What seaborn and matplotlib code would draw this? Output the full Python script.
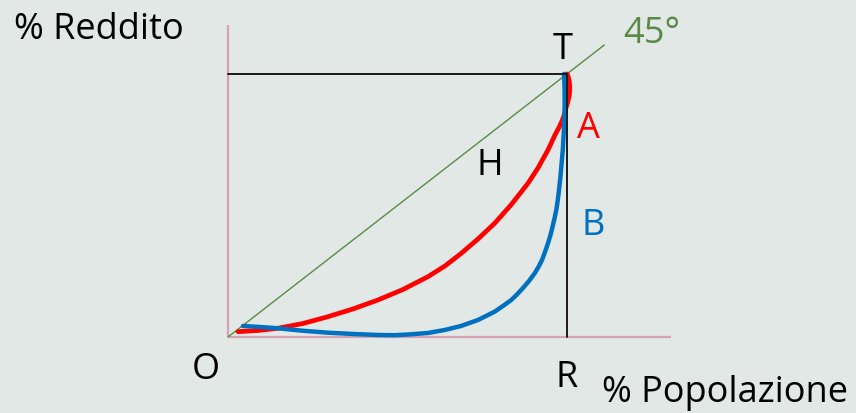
import matplotlib
matplotlib.use("Agg")
import matplotlib.pyplot as plt
import seaborn as sns
import pandas as pd

# ---- data (in % units) ----
red_x = [2.95, 8.85, 14.75, 22.12, 29.50, 36.87, 44.25, 51.62, 59.00, 64.01, 68.82,
         73.75, 78.67, 83.48, 88.50, 91.45, 92.92, 94.40, 95.43, 96.46, 97.64, 98.67,
         99.26, 99.71, 100.06, 100.38, 100.65, 100.80, 100.80, 100.65, 100.38, 100.0]
red_y = [2.02, 2.47, 3.31, 5.13, 7.72, 10.65, 14.07, 18.06, 22.93, 27.00, 31.82,
         37.26, 43.23, 50.19, 58.44, 64.26, 67.68, 71.10, 73.95, 76.81, 79.66, 82.51,
         84.79, 87.07, 88.59, 90.11, 91.63, 93.54, 95.44, 97.34, 98.86, 100.0]

blue_x = [4.42, 9.44, 14.75, 22.12, 29.50, 36.87, 44.25, 49.26, 54.07, 59.00, 63.92,
          68.73, 73.75, 78.76, 81.12, 83.57, 85.25, 87.02, 88.79, 90.47, 91.59, 92.63,
          93.51, 94.40, 95.13, 95.72, 96.31, 96.84, 97.29, 97.64, 98.03, 98.32, 98.76,
          99.03, 99.26, 99.32, 99.26, 99.12]
blue_y = [4.18, 3.80, 3.31, 2.36, 1.63, 1.14, 0.76, 0.68, 1.03, 1.52, 2.66,
          4.18, 6.46, 9.70, 11.79, 14.07, 16.16, 18.63, 21.29, 24.22, 26.62, 29.28,
          32.32, 35.63, 38.78, 41.83, 45.06, 48.29, 52.09, 55.89, 60.46, 64.75, 71.10,
          77.45, 84.41, 90.11, 95.82, 100.0]

diag_x = [0, 111]
diag_y = [0, 111]

x_axis_end = 130.7
y_axis_end = 118.6
full = 100

labels = {
    "O": (-6.5, -12.5, "black"),
    "R": (100.0, -15.5, "black"),
    "T": (98.8, 109.2, "black"),
    "H": (77.3, 65.0, "black"),
    "A": (106.2, 79.2, "#ff0000"),
    "B": (107.7, 42.2, "#0070c0"),
}

BG = "#e2e8e5"
sns.set_theme(style="white")
plt.rcParams["font.family"] = ["Open Sans", "DejaVu Sans"]

fig = plt.figure(figsize=(8.56, 4.13), dpi=100, facecolor=BG)
ax = fig.add_axes([0, 0, 1, 1])
ax.set_facecolor(BG)
ax.set_xlim(-67.26, 185.25)
ax.set_ylim(-28.9, 128.1)
for s in ax.spines.values():
    s.set_visible(False)
ax.set_xticks([])
ax.set_yticks([])

pink = "#d4a2b2"
ax.plot([0, 0], [0, y_axis_end], color=pink, lw=1.6, solid_capstyle="butt", zorder=1)
ax.plot([0, x_axis_end], [0, 0], color=pink, lw=1.6, solid_capstyle="butt", zorder=1)

sns.lineplot(x=diag_x, y=diag_y, ax=ax, color="#5b8a48", lw=1.0, zorder=2)
sns.lineplot(data=pd.DataFrame({"x": red_x, "y": red_y}), x="x", y="y", sort=False,
             estimator=None, ax=ax, color="#ff0000", lw=3.4, zorder=3,
             solid_joinstyle="round")
sns.lineplot(data=pd.DataFrame({"x": blue_x, "y": blue_y}), x="x", y="y", sort=False,
             estimator=None, ax=ax, color="#0070c0", lw=3.2, zorder=4,
             solid_joinstyle="round")

ax.plot([0, full], [full, full], color="#1a1a1a", lw=1.4, zorder=5)
ax.plot([full, full], [0, full], color="#1a1a1a", lw=1.4, zorder=5)

ax.set_xlabel("")
ax.set_ylabel("")

fs = 26
for t, (x, y, c) in labels.items():
    ax.text(x, y, t, color=c, fontsize=fs, ha="center", va="center", zorder=6)

ax.text(-63.1, 116.8, "% Reddito", fontsize=fs, ha="left", va="center", color="black")
ax.text(110.3, -21.3, "% Popolazione", fontsize=fs, ha="left", va="center", color="black")
ax.text(116.6, 115.2, "45°", fontsize=fs, ha="left", va="center", color="#5b8a48")

fig.savefig("out.png", dpi=100, facecolor=BG)
